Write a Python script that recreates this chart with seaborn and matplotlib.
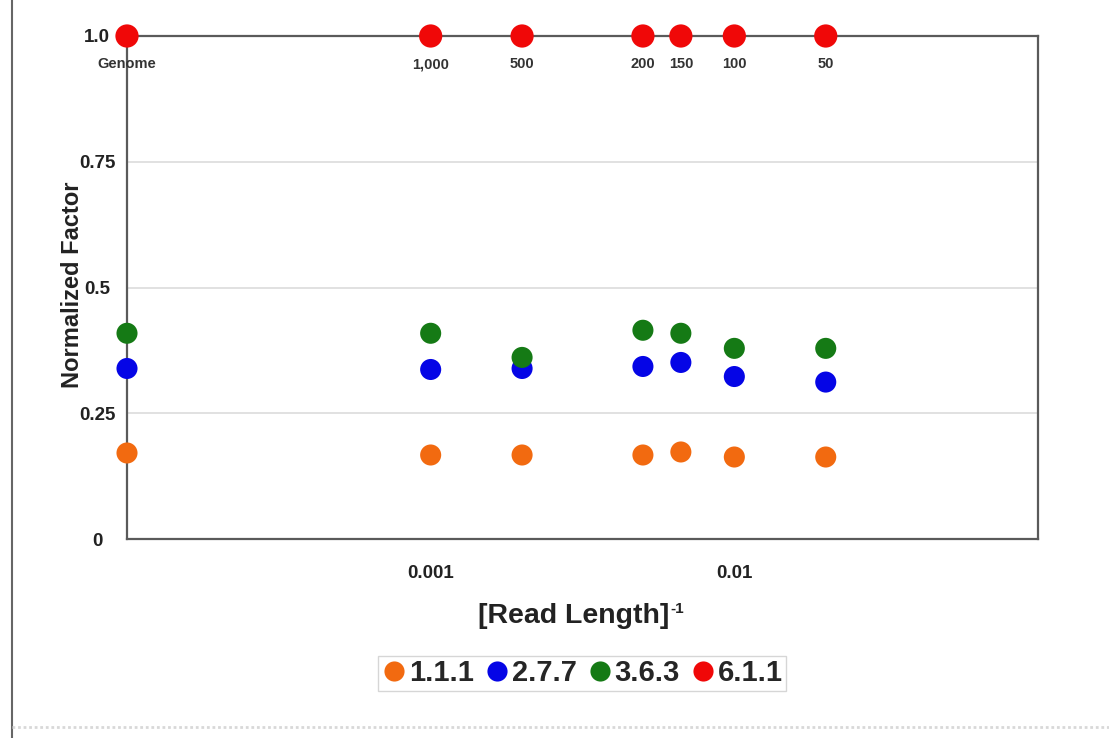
import matplotlib
matplotlib.use("Agg")
import matplotlib.pyplot as plt
from matplotlib.lines import Line2D
import seaborn as sns
import pandas as pd

# Read lengths and their inverse (genome-wide reference placed at the left edge)
length_labels = ["Genome", "1,000", "500", "200", "150", "100", "50"]
inverse_length = [0.0001, 0.001, 0.002, 0.005, 1 / 150, 0.01, 0.02]

# Normalized factor per EC class
series_names = ["1.1.1", "2.7.7", "3.6.3", "6.1.1"]
ec_111 = [0.171, 0.167, 0.167, 0.167, 0.173, 0.163, 0.163]
ec_277 = [0.339, 0.337, 0.339, 0.343, 0.351, 0.323, 0.312]
ec_363 = [0.409, 0.409, 0.361, 0.415, 0.409, 0.379, 0.379]
ec_611 = [1.0, 1.0, 1.0, 1.0, 1.0, 1.0, 1.0]

y_ticks = [0, 0.25, 0.5, 0.75, 1.0]
y_tick_labels = ["0", "0.25", "0.5", "0.75", "1.0"]
x_ticks = [0.001, 0.01]
x_tick_labels = ["0.001", "0.01"]

colors = {"1.1.1": "#f26a10", "2.7.7": "#0505e6", "3.6.3": "#157a15", "6.1.1": "#f00808"}
sizes = {"1.1.1": 230, "2.7.7": 230, "3.6.3": 230, "6.1.1": 280}

frames = []
for name, vals in zip(series_names, [ec_111, ec_277, ec_363, ec_611]):
    frames.append(pd.DataFrame({"x": inverse_length, "y": vals, "series": name}))
df = pd.concat(frames, ignore_index=True)

sns.set_theme(style="white")
plt.rcParams["font.family"] = ["Liberation Sans", "DejaVu Sans"]

W, H = 1109, 738
fig = plt.figure(figsize=(W / 100, H / 100), dpi=100)
ax = fig.add_axes([127 / W, 1 - 539 / H, (1038 - 127) / W, (539 - 36) / H])

ax.set_xscale("log")
ax.set_xlim(0.0001, 0.1)
ax.set_ylim(0, 1.0)

for yv in [0.25, 0.5, 0.75]:
    ax.axhline(yv, color="#dcdcdc", lw=1.2, zorder=0)

sns.scatterplot(data=df, x="x", y="y", hue="series", size="series",
                palette=colors, sizes=sizes, edgecolor="none", linewidth=0,
                legend=False, ax=ax, clip_on=False, zorder=5)

for lab, xv, yv in zip(length_labels, inverse_length, ec_611):
    ax.annotate(lab, (xv, yv), xytext=(0, -20.5), textcoords="offset points",
                ha="center", va="center", fontsize=10.5, fontweight="bold",
                color="#333333", annotation_clip=False)

for side in ["left", "right", "top", "bottom"]:
    ax.spines[side].set_color("#5a5a5a")
    ax.spines[side].set_linewidth(1.6)

# y tick labels are centred in a column left of the axis
ax.set_yticks(y_ticks)
ax.set_yticklabels(y_tick_labels, fontsize=13.5, fontweight="bold", color="#222222",
                   ha="center")
ax.tick_params(axis="y", length=0, pad=(127 - 97) * 0.72)

ax.set_xticks(x_ticks)
ax.set_xticklabels(x_tick_labels, fontsize=13.5, fontweight="bold", color="#222222")
ax.xaxis.set_minor_locator(matplotlib.ticker.NullLocator())
ax.tick_params(axis="x", length=4, width=1, color="#aaaaaa", direction="out", pad=15)

ax.set_xlabel("[Read Length]", fontsize=20.5, fontweight="bold", color="#222222")
ax.xaxis.set_label_coords((574 - 127) / 911, (539 - 603) / 503)
ax.annotate("-1", xy=(1, 1), xycoords=ax.xaxis.label, xytext=(0.5, 1.0),
            textcoords="offset points", ha="left", va="top", fontsize=11,
            fontweight="bold", color="#222222")

ax.set_ylabel("Normalized Factor", fontsize=17, fontweight="bold", color="#222222")
ax.yaxis.set_label_coords((84 - 127) / 911, (539 - 285) / 503)

handles = [Line2D([0], [0], marker="o", color="none", markerfacecolor=colors[n],
                  markeredgecolor="none", markersize=14.5, label=n) for n in series_names]
leg = fig.legend(handles=handles, loc="center", bbox_to_anchor=(582 / W, 1 - 673 / H),
                 ncol=4, frameon=True, prop={"weight": "bold", "size": 21},
                 handletextpad=0.05, columnspacing=0.35, handlelength=0.9,
                 borderpad=0.12, borderaxespad=0, fancybox=False)
leg.get_frame().set_edgecolor("#cccccc")
leg.get_frame().set_linewidth(1.0)

# Page border on the left and faint rule along the bottom
fig.add_artist(Line2D([11.5 / W, 11.5 / W], [0, 1], color="#666666", lw=1.5))
fig.add_artist(Line2D([12 / W, 1], [1 - 727 / H, 1 - 727 / H],
                      color="#d8d8d8", lw=2, linestyle=(0, (1, 1))))

fig.savefig("out.png", dpi=100, facecolor="white")
